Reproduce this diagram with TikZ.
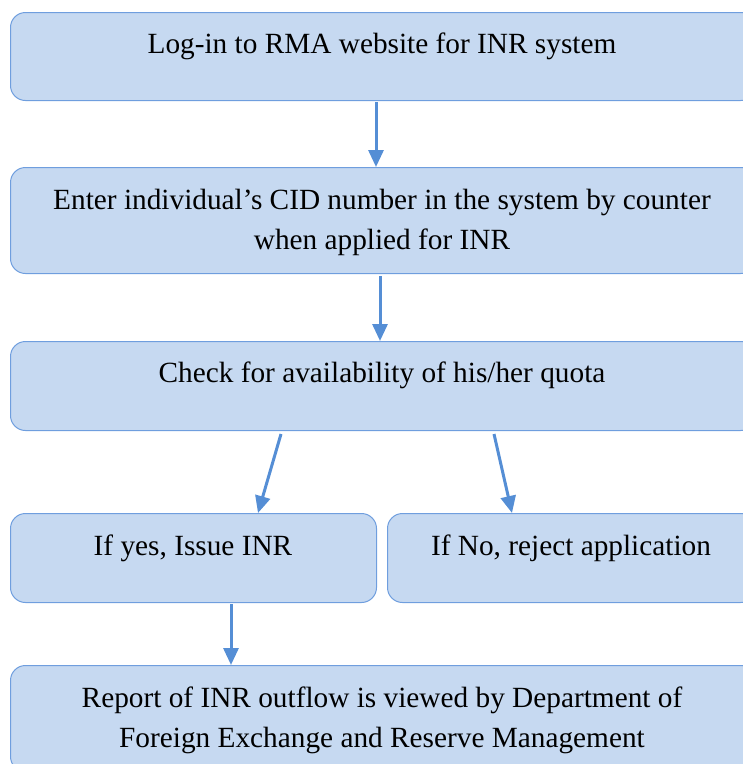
\documentclass[tikz,border=0pt]{standalone}
\usepackage{fontspec}
\setmainfont{Liberation Serif}
\usetikzlibrary{arrows.meta}
\definecolor{boxfill}{RGB}{198,217,241}
\definecolor{boxline}{RGB}{111,158,222}
\definecolor{arrowblue}{RGB}{85,142,213}
\begin{document}
\begin{tikzpicture}[x=1pt,y=-1pt,
  stepbox/.style={draw=boxline,fill=boxfill,line width=1pt,rounded corners=15pt,
    inner sep=0pt,anchor=north west},
  steptext/.style={anchor=center,align=center,font=\fontsize{29.3}{40}\selectfont,inner sep=0pt},
  flow/.style={draw=arrowblue,line width=3pt,-{Triangle[width=15pt,length=17pt]}}]
  \useasboundingbox (0,0) rectangle (743,764);
  \clip (0,0) rectangle (743,764);
  % boxes
  \node[stepbox,minimum width=745pt,minimum height=88pt]  (b1) at (10,12)  {};
  \node[stepbox,minimum width=745pt,minimum height=106pt] (b2) at (10,167) {};
  \node[stepbox,minimum width=745pt,minimum height=89pt]  (b3) at (10,341) {};
  \node[stepbox,minimum width=366pt,minimum height=89pt]  (b4) at (10,513) {};
  \node[stepbox,minimum width=368pt,minimum height=89pt]  (b5) at (387,513) {};
  \node[stepbox,minimum width=745pt,minimum height=106pt] (b6) at (10,665) {};
  % labels
  \node[steptext] (t1) at (382,46) {Log-in to RMA website for INR system};
  \node[steptext] (t2) at (382,222) {Enter individual’s CID number in the system by counter\\when applied for INR};
  \node[steptext] (t3) at (382,375) {Check for availability of his/her quota};
  \node[steptext] (t4) at (193,548) {If yes, Issue INR};
  \node[steptext] (t5) at (571,548) {If No, reject application};
  \node[steptext] (t6) at (382,720) {Report of INR outflow is viewed by Department of\\Foreign Exchange and Reserve Management};
  % connectors
  \draw[flow] ([yshift=-1pt]b1.south -| 376,0) -- (b2.north -| 376,0);
  \draw[flow] ([yshift=-2pt]b2.south -| 380,0) -- (b3.north -| 380,0);
  \draw[flow] ([yshift=-3pt]b3.south -| 281,0) -- (b4.north -| 258,0);
  \draw[flow] ([yshift=-3pt]b3.south -| 494,0) -- (b5.north -| 512,0);
  \draw[flow] ([yshift=-1pt]b4.south -| 231,0) -- (b6.north -| 231,0);
\end{tikzpicture}
\end{document}
